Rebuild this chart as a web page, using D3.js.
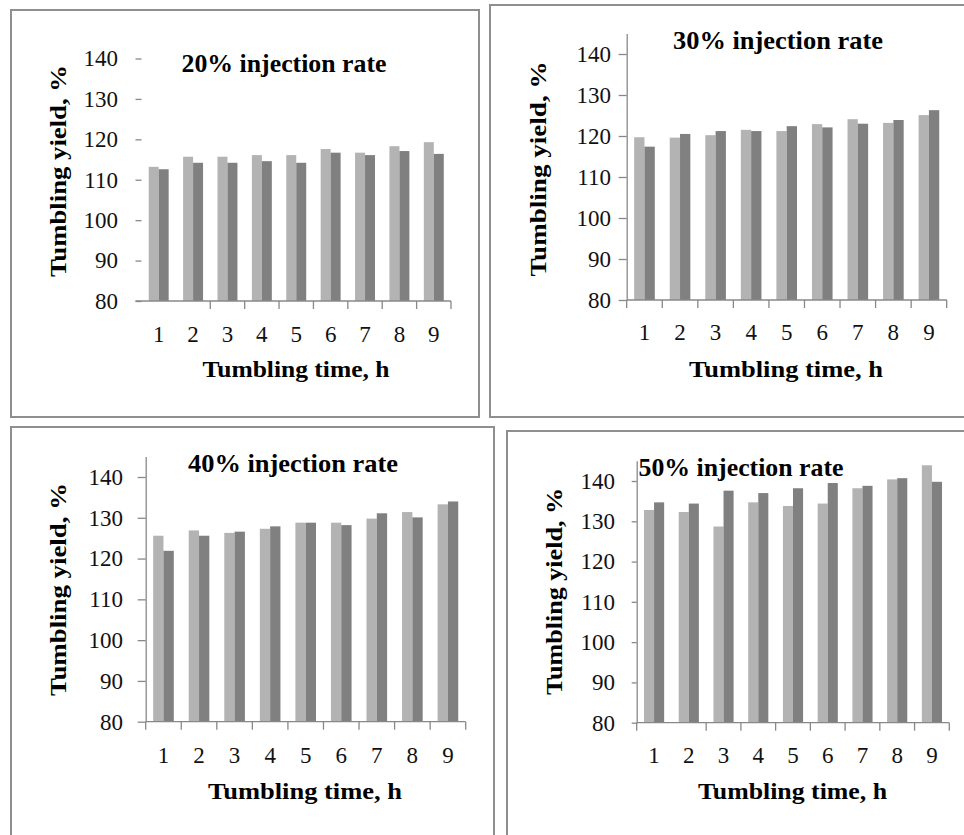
<!DOCTYPE html>
<html>
<head>
<meta charset="utf-8">
<script src="https://cdn.jsdelivr.net/npm/d3@7"></script>
<style>
  body { margin: 0; background: #fff; }
</style>
</head>
<body>
<div id="chart"></div>
<script>
// data
const hours = ['1', '2', '3', '4', '5', '6', '7', '8', '9'];
const yTicks = [80, 90, 100, 110, 120, 130, 140];
const titles = ['20% injection rate', '30% injection rate', '40% injection rate', '50% injection rate'];

const rate20Light = [113.2, 115.7, 115.7, 116.1, 116.1, 117.6, 116.7, 118.3, 119.3];
const rate20Dark  = [112.6, 114.2, 114.2, 114.6, 114.2, 116.7, 116.1, 117.1, 116.4];
const rate30Light = [119.7, 119.6, 120.2, 121.5, 121.2, 122.9, 124.1, 123.2, 125.1];
const rate30Dark  = [117.4, 120.5, 121.2, 121.2, 122.4, 122.1, 123.0, 123.9, 126.3];
const rate40Light = [125.6, 126.9, 126.3, 127.3, 128.8, 128.8, 129.8, 131.4, 133.3];
const rate40Dark  = [121.9, 125.6, 126.6, 127.9, 128.8, 128.2, 131.1, 130.1, 134.0];
const rate50Light = [132.8, 132.3, 128.7, 134.7, 133.8, 134.4, 138.2, 140.4, 143.9];
const rate50Dark  = [134.7, 134.4, 137.6, 137.0, 138.2, 139.5, 138.8, 140.7, 139.8];

const series = [
  [rate20Light, rate20Dark],
  [rate30Light, rate30Dark],
  [rate40Light, rate40Dark],
  [rate50Light, rate50Dark]
];
const yMax = [140, 145, 145, 145];

// layout of each boxed panel (pixels)
const panels = [
  { box: [11, 10, 468, 407], x0: 141.5, x1: 451, y80: 301, y140: 58.5, showLine: false, skip: [0, 1],
    tick: 6, labRight: 118, title: [284, 71.5, 205], ylab: [66, 171, 212], xlab: [296, 377, 187], xtickY: 341.5 },
  { box: [490, 5, 480, 412], x0: 626.7, x1: 946.7, y80: 300, y140: 54, showLine: true, skip: [],
    tick: 8, labRight: 611, title: [778, 49, 210], ylab: [546, 169, 215], xlab: [786, 376.5, 194], xtickY: 340 },
  { box: [11, 427, 483, 420], x0: 145.7, x1: 465.7, y80: 721.7, y140: 477, showLine: true, skip: [],
    tick: 8, labRight: 123, title: [293, 471.5, 210], ylab: [66, 589.5, 213], xlab: [305, 799, 194], xtickY: 762.5 },
  { box: [507, 431, 470, 420], x0: 636.7, x1: 949.3, y80: 722.7, y140: 481, showLine: true, skip: [1],
    tick: 5, labRight: 615, title: [741, 476, 205], ylab: [562, 591.5, 207], xlab: [792.5, 799, 189], xtickY: 763 }
];

const FONT = '"Liberation Serif", "Times New Roman", Tinos, serif';
const lightColor = '#b3b3b3';
const darkColor = '#808080';
const axisColor = '#888888';

const svg = d3.select('#chart').append('svg')
  .attr('width', 964)
  .attr('height', 835)
  .attr('font-family', FONT);

panels.forEach((p, k) => {
  const g = svg.append('g');

  // frame
  g.append('rect')
    .attr('x', p.box[0]).attr('y', p.box[1])
    .attr('width', p.box[2]).attr('height', p.box[3])
    .attr('fill', 'none')
    .attr('stroke', '#8f8f8f')
    .attr('stroke-width', 2);

  const y = d3.scaleLinear().domain([80, 140]).range([p.y80, p.y140]);
  const yTop = y(yMax[k]);
  y.domain([80, yMax[k]]).range([p.y80, yTop]);

  const x = d3.scaleBand().domain(hours).range([p.x0, p.x1]).paddingInner(0.42).paddingOuter(0.21);
  const xs = d3.scaleBand().domain([0, 1]).range([0, x.bandwidth()]);

  // bars
  series[k].forEach((vals, s) => {
    g.selectAll('.bar' + s)
      .data(vals)
      .enter()
      .append('rect')
      .attr('class', 'bar' + s)
      .attr('x', (d, i) => x(hours[i]) + xs(s))
      .attr('y', d => y(d))
      .attr('width', xs.bandwidth())
      .attr('height', d => p.y80 - y(d))
      .attr('fill', s === 0 ? lightColor : darkColor);
  });

  // y axis
  const yAxis = g.append('g')
    .attr('transform', `translate(${p.x0},0)`)
    .call(d3.axisLeft(y).tickValues(yTicks).tickSize(p.tick).tickSizeOuter(0)
      .tickPadding(p.x0 - p.tick - p.labRight))
    .attr('font-family', FONT)
    .attr('font-size', 23);
  yAxis.select('.domain').attr('stroke', axisColor).attr('stroke-width', 1.3)
    .style('display', p.showLine ? null : 'none');
  yAxis.selectAll('.tick line').attr('stroke', axisColor).attr('stroke-width', 1.3);
  yAxis.selectAll('.tick text').attr('fill', '#111');

  // x axis: line + boundary ticks
  const step = x.step();
  g.append('line')
    .attr('x1', p.x0 - (p.showLine ? 0 : p.tick)).attr('x2', p.x1)
    .attr('y1', p.y80).attr('y2', p.y80)
    .attr('stroke', axisColor).attr('stroke-width', 1.3);
  g.selectAll('.xtick')
    .data(d3.range(hours.length + 1).filter(i => p.skip.indexOf(i) < 0))
    .enter()
    .append('line')
    .attr('x1', i => p.x0 + i * step).attr('x2', i => p.x0 + i * step)
    .attr('y1', p.y80).attr('y2', p.y80 + 8)
    .attr('stroke', axisColor).attr('stroke-width', 1.3);
  g.selectAll('.xlab')
    .data(hours)
    .enter()
    .append('text')
    .attr('x', d => x(d) + x.bandwidth() / 2)
    .attr('y', p.xtickY)
    .attr('text-anchor', 'middle')
    .attr('font-size', 23)
    .attr('fill', '#111')
    .text(d => d);

  // title
  g.append('text')
    .attr('x', p.title[0]).attr('y', p.title[1])
    .attr('text-anchor', 'middle')
    .attr('font-size', 25).attr('font-weight', 'bold')
    .attr('textLength', p.title[2]).attr('lengthAdjust', 'spacingAndGlyphs')
    .text(titles[k]);

  // axis titles
  g.append('text')
    .attr('transform', `translate(${p.ylab[0]},${p.ylab[1]}) rotate(-90)`)
    .attr('text-anchor', 'middle')
    .attr('font-size', 24).attr('font-weight', 'bold')
    .attr('textLength', p.ylab[2]).attr('lengthAdjust', 'spacingAndGlyphs')
    .text('Tumbling yield, %');
  g.append('text')
    .attr('x', p.xlab[0]).attr('y', p.xlab[1])
    .attr('text-anchor', 'middle')
    .attr('font-size', 24).attr('font-weight', 'bold')
    .attr('textLength', p.xlab[2]).attr('lengthAdjust', 'spacingAndGlyphs')
    .text('Tumbling time, h');
});
</script>
</body>
</html>
